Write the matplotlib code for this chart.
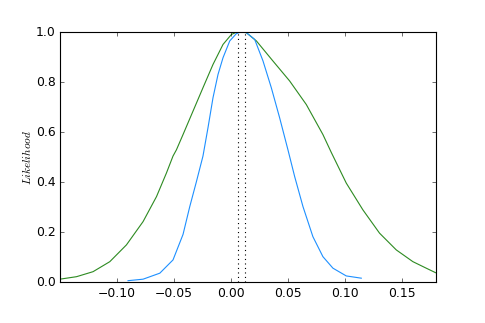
import matplotlib
matplotlib.use('Agg')
import matplotlib.pyplot as plt

# wide likelihood curve (green)
green_x = [-0.1503, -0.1356, -0.1211, -0.1064, -0.0918, -0.0772, -0.0654, -0.0567,
           -0.0509, -0.0479, -0.0421, -0.0333, -0.0246, -0.0158, -0.0070, 0.0004,
           0.0060, 0.0135, 0.0223, 0.0368, 0.0515, 0.0661, 0.0807, 0.0881,
           0.1012, 0.1158, 0.1304, 0.1451, 0.1597, 0.1714, 0.1796]
green_y = [0.011, 0.021, 0.041, 0.081, 0.148, 0.241, 0.341, 0.435,
           0.503, 0.528, 0.589, 0.683, 0.776, 0.869, 0.949, 0.989,
           1.000, 0.996, 0.963, 0.883, 0.803, 0.709, 0.589, 0.517,
           0.395, 0.288, 0.195, 0.128, 0.081, 0.055, 0.037]

# narrow likelihood curve (blue)
blue_x = [-0.0904, -0.0772, -0.0625, -0.0509, -0.0421, -0.0362, -0.0304, -0.0246,
          -0.0202, -0.0158, -0.0114, -0.0070, -0.0011, 0.0047, 0.0091, 0.0135,
          0.0208, 0.0281, 0.0354, 0.0427, 0.0500, 0.0559, 0.0632, 0.0719,
          0.0807, 0.0895, 0.1012, 0.1144]
blue_y = [0.005, 0.011, 0.035, 0.088, 0.190, 0.301, 0.400, 0.503,
          0.616, 0.736, 0.829, 0.896, 0.963, 0.992, 1.000, 0.996,
          0.969, 0.883, 0.776, 0.656, 0.528, 0.421, 0.301, 0.181,
          0.101, 0.055, 0.024, 0.015]

# peak markers
peaks = [0.006, 0.012]

plt.style.use('classic')
fig = plt.figure(figsize=(6, 4), dpi=485 / 6)
ax = fig.add_axes([0.124, 0.127, 0.775, 0.774])

ax.plot(green_x, green_y, color='#2e8b22', lw=1)
ax.plot(blue_x, blue_y, color='#1e90ff', lw=1)
for p in peaks:
    ax.plot([p, p], [0, 1], 'k:', lw=1)

ax.set_xlim(-0.15, 0.18)
ax.set_ylim(0, 1)
ax.set_xticks([-0.10, -0.05, 0.00, 0.05, 0.10, 0.15])
ax.set_yticks([0.0, 0.2, 0.4, 0.6, 0.8, 1.0])
ax.tick_params(labelsize=11)
ax.set_ylabel(r'$Likelihood$', fontsize=10, labelpad=3)

fig.savefig('out.png', dpi=485 / 6)
